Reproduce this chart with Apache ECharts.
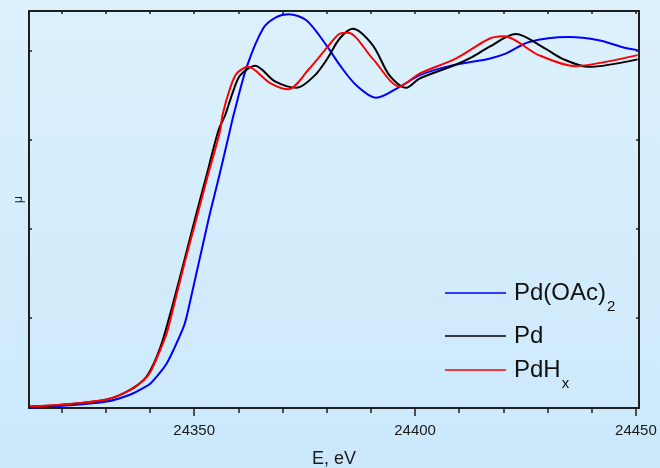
<!DOCTYPE html>
<html>
<head>
<meta charset="utf-8">
<script src="https://cdn.jsdelivr.net/npm/echarts@6/dist/echarts.min.js"></script>
<style>
  html, body { margin: 0; padding: 0; }
  #chart { width: 660px; height: 468px; }
</style>
</head>
<body>
<div id="chart"></div>
<script>
// energies (eV) and normalised absorption
const pdOAcE = [24312.8, 24320.2, 24330.2, 24335.6, 24338.6, 24340.1, 24342.3, 24343.8, 24345.3, 24347.6, 24348.5,
  24353.2, 24355.7, 24358.1, 24358.9, 24361.9, 24365.6, 24368.5, 24371.4, 24375.4, 24379.9, 24382.9, 24386.7, 24391.2, 24396.5,
  24401.0, 24407.7, 24416.8, 24420.5, 24425.8, 24434.8, 24441.6, 24446.8, 24450.4];
const pdOAcMu = [0.001, 0.006, 0.018, 0.038, 0.057, 0.069, 0.100, 0.126, 0.163, 0.228, 0.268,
  0.528, 0.654, 0.781, 0.823, 0.959, 1.067, 1.098, 1.107, 1.090, 1.020, 0.965, 0.907, 0.872, 0.903,
  0.935, 0.961, 0.982, 0.996, 1.029, 1.043, 1.034, 1.015, 1.006];

const pdE = [24312.8, 24320.2, 24330.2, 24335.6, 24339.3, 24342.3, 24344.8, 24347.6, 24350.1, 24352.8, 24355.5, 24357.0,
  24358.9, 24360.4, 24363.8, 24368.3, 24373.2, 24377.3, 24380.2, 24382.9, 24385.9, 24390.4, 24394.2, 24398.0,
  24401.0, 24409.2, 24413.0, 24416.8, 24422.8, 24429.5, 24433.3, 24439.3, 24450.4];
const pdMu = [0.004, 0.009, 0.024, 0.052, 0.090, 0.169, 0.275, 0.407, 0.528, 0.654, 0.781, 0.823,
  0.893, 0.935, 0.962, 0.918, 0.900, 0.935, 0.983, 1.038, 1.066, 1.020, 0.935, 0.900,
  0.926, 0.965, 0.987, 1.015, 1.051, 1.010, 0.982, 0.959, 0.980];

const pdHE = [24312.8, 24320.2, 24330.2, 24335.6, 24338.6, 24340.1, 24342.3, 24343.8, 24345.0, 24347.8, 24350.4, 24353.1,
  24355.9, 24356.4, 24358.1, 24359.6, 24362.2, 24367.0, 24371.3, 24375.8, 24380.2, 24382.9, 24384.8, 24390.4,
  24396.5, 24401.0, 24409.2, 24416.8, 24420.1, 24428.0, 24436.3, 24443.1, 24450.4];
const pdHMu = [0.004, 0.010, 0.024, 0.051, 0.079, 0.102, 0.163, 0.211, 0.268, 0.407, 0.528, 0.654,
  0.781, 0.823, 0.898, 0.940, 0.959, 0.915, 0.896, 0.950, 1.015, 1.052, 1.055, 0.982,
  0.904, 0.940, 0.982, 1.038, 1.045, 0.992, 0.961, 0.973, 0.992];

const xMinorTicks = [24320, 24330, 24340, 24350, 24360, 24370, 24380, 24390, 24400, 24410, 24420, 24430, 24440, 24450];
const xLabels = [24350, 24400, 24450];
const yTicks = [0.255, 0.505, 0.755, 1.005];

const pairs = (xs, ys) => xs.map((x, i) => [x, ys[i]]);

const chart = echarts.init(document.getElementById('chart'), null, { renderer: 'canvas' });

const frame = { lineStyle: { color: '#1e1e1e', width: 2 } };
const tickLine = { color: '#1e1e1e', width: 1.5 };
const xRange = { min: 24312.6, max: 24450.7 };

const legendRich = {
  m: { fontSize: 24, color: '#111', fontFamily: 'Liberation Sans, Arial, sans-serif' },
  s: { fontSize: 15, padding: [27, 0, 0, 1], color: '#111', fontFamily: 'Liberation Sans, Arial, sans-serif' }
};
const legendLabel = {
  'Pd(OAc)2': '{m|Pd(OAc)}{s|2}',
  'Pd': '{m|Pd}',
  'PdHx': '{m|PdH}{s|x}'
};
const makeLegend = (name, top) => ({
  data: [name],
  left: 445,
  top: top,
  padding: 0,
  icon: 'rect',
  itemWidth: 61,
  itemHeight: 1.3,
  formatter: (n) => legendLabel[n],
  textStyle: { rich: legendRich, padding: [0, 0, 0, 3] }
});

const line = (name, xs, ys, color) => ({
  name, type: 'line', data: pairs(xs, ys),
  symbol: 'none', smooth: 0.3,
  color, lineStyle: { width: 2 }
});

chart.setOption({
  animation: false,
  backgroundColor: new echarts.graphic.LinearGradient(0, 0, 0, 1, [
    { offset: 0, color: '#ddf1fd' },
    { offset: 1, color: '#cbe8fb' }
  ]),
  textStyle: { fontFamily: 'Liberation Sans, Arial, sans-serif' },
  grid: { left: 29, right: 21, top: 11, bottom: 60, outerBoundsMode: 'none', containLabel: false },
  legend: [
    makeLegend('Pd(OAc)2', 281),
    makeLegend('Pd', 324),
    makeLegend('PdHx', 358)
  ],
  xAxis: [
    {
      type: 'value', ...xRange, position: 'bottom',
      axisLine: { show: true, onZero: false, ...frame },
      axisTick: { show: true, customValues: xMinorTicks, length: 5, lineStyle: tickLine },
      axisLabel: { customValues: xLabels, fontSize: 15, color: '#1a1a1a', margin: 15, formatter: (v) => String(v) },
      splitLine: { show: false },
      name: 'E, eV', nameLocation: 'middle', nameGap: 42,
      nameTextStyle: { fontSize: 18, color: '#1a1a1a' }
    },
    {
      type: 'value', ...xRange, position: 'bottom',
      axisLine: { show: false },
      axisTick: { show: true, customValues: xLabels, length: 8, lineStyle: tickLine },
      axisLabel: { show: false },
      splitLine: { show: false }
    },
    {
      type: 'value', ...xRange, position: 'top',
      axisLine: { show: true, onZero: false, ...frame },
      axisTick: { show: true, inside: true, customValues: xMinorTicks, length: 3, lineStyle: tickLine },
      axisLabel: { show: false },
      splitLine: { show: false }
    }
  ],
  yAxis: [
    {
      type: 'value', min: 0, max: 1.116, position: 'left',
      axisLine: { show: true, onZero: false, ...frame },
      axisTick: { show: true, inside: true, customValues: yTicks, length: 3, lineStyle: tickLine },
      axisLabel: { show: false },
      splitLine: { show: false },
      name: 'μ', nameLocation: 'middle', nameGap: 4,
      nameTextStyle: { fontSize: 12, color: '#1a1a1a', padding: [0, 0, 0, 20] }
    },
    {
      type: 'value', min: 0, max: 1.116, position: 'right',
      axisLine: { show: true, onZero: false, ...frame },
      axisTick: { show: true, inside: true, customValues: yTicks, length: 3, lineStyle: tickLine },
      axisLabel: { show: false },
      splitLine: { show: false }
    }
  ],
  series: [
    line('Pd(OAc)2', pdOAcE, pdOAcMu, '#0000ff'),
    line('Pd', pdE, pdMu, '#000000'),
    line('PdHx', pdHE, pdHMu, '#ff0000')
  ]
});
</script>
</body>
</html>
